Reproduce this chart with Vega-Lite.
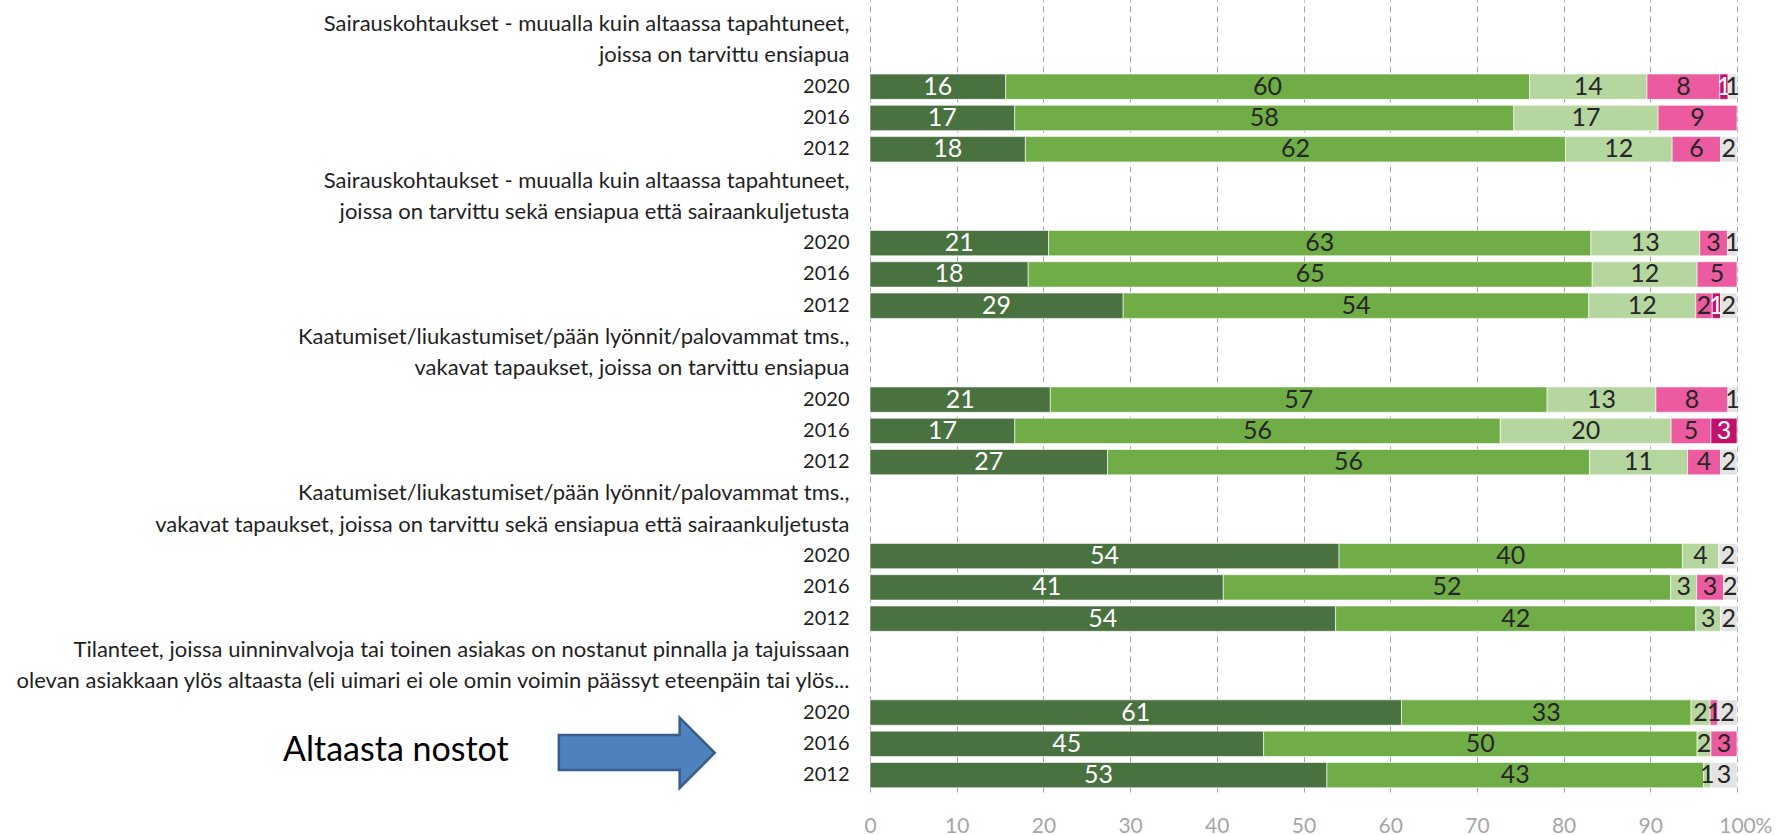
{
  "$schema": "https://vega.github.io/schema/vega-lite/v6.json",
  "width": 867,
  "height": 792,
  "autosize": "none",
  "padding": {"left": 870, "top": 0, "right": 46, "bottom": 43},
  "background": "white",
  "config": {"view": {"stroke": null}, "font": "Lato"},
  "encoding": {
    "y": {
      "field": "row",
      "type": "ordinal",
      "scale": {"domain": [0,1,2,3,4,5,6,7,8,9,10,11,12,13,14,15,16,17,18,19,20,21,22,23,24], "paddingInner": 0.19, "paddingOuter": 0.25, "align": 0.73},
      "axis": {
        "title": null,
        "ticks": false,
        "domain": false,
        "labelFont": "Lato",
        "labelFontSize": {"condition": {"test": "datum.value % 5 < 2", "value": 22}, "value": 20},
        "labelColor": "#1f1f1f",
        "labelPadding": 21,
        "labelLimit": 1000,
        "labelExpr": "['Sairauskohtaukset - muualla kuin altaassa tapahtuneet,','joissa on tarvittu ensiapua','2020','2016','2012','Sairauskohtaukset - muualla kuin altaassa tapahtuneet,','joissa on tarvittu sekä ensiapua että sairaankuljetusta','2020','2016','2012','Kaatumiset/liukastumiset/pään lyönnit/palovammat tms.,','vakavat tapaukset, joissa on tarvittu ensiapua','2020','2016','2012','Kaatumiset/liukastumiset/pään lyönnit/palovammat tms.,','vakavat tapaukset, joissa on tarvittu sekä ensiapua että sairaankuljetusta','2020','2016','2012','Tilanteet, joissa uinninvalvoja tai toinen asiakas on nostanut pinnalla ja tajuissaan','olevan asiakkaan ylös altaasta (eli uimari ei ole omin voimin päässyt eteenpäin tai ylös...','2020','2016','2012'][datum.value]"
      }
    }
  },
  "data": {
    "values": [
      {"row": 2, "year": "2020", "cat": "c1", "value": 15.65},
      {"row": 2, "year": "2020", "cat": "c2", "value": 60.42},
      {"row": 2, "year": "2020", "cat": "c3", "value": 13.55},
      {"row": 2, "year": "2020", "cat": "c4", "value": 8.4},
      {"row": 2, "year": "2020", "cat": "c5", "value": 0.95},
      {"row": 2, "year": "2020", "cat": "c6", "value": 1.03},
      {"row": 3, "year": "2016", "cat": "c1", "value": 16.69},
      {"row": 3, "year": "2016", "cat": "c2", "value": 57.57},
      {"row": 3, "year": "2016", "cat": "c3", "value": 16.64},
      {"row": 3, "year": "2016", "cat": "c4", "value": 9.1},
      {"row": 4, "year": "2012", "cat": "c1", "value": 17.92},
      {"row": 4, "year": "2012", "cat": "c2", "value": 62.3},
      {"row": 4, "year": "2012", "cat": "c3", "value": 12.3},
      {"row": 4, "year": "2012", "cat": "c4", "value": 5.6},
      {"row": 4, "year": "2012", "cat": "c6", "value": 1.88},
      {"row": 7, "year": "2020", "cat": "c1", "value": 20.6},
      {"row": 7, "year": "2020", "cat": "c2", "value": 62.55},
      {"row": 7, "year": "2020", "cat": "c3", "value": 12.55},
      {"row": 7, "year": "2020", "cat": "c4", "value": 3.2},
      {"row": 7, "year": "2020", "cat": "c6", "value": 1.1},
      {"row": 8, "year": "2016", "cat": "c1", "value": 18.25},
      {"row": 8, "year": "2016", "cat": "c2", "value": 65.05},
      {"row": 8, "year": "2016", "cat": "c3", "value": 12.1},
      {"row": 8, "year": "2016", "cat": "c4", "value": 4.6},
      {"row": 9, "year": "2012", "cat": "c1", "value": 29.2},
      {"row": 9, "year": "2012", "cat": "c2", "value": 53.7},
      {"row": 9, "year": "2012", "cat": "c3", "value": 12.35},
      {"row": 9, "year": "2012", "cat": "c4", "value": 1.9},
      {"row": 9, "year": "2012", "cat": "c5", "value": 0.95},
      {"row": 9, "year": "2012", "cat": "c6", "value": 1.9},
      {"row": 12, "year": "2020", "cat": "c1", "value": 20.8},
      {"row": 12, "year": "2020", "cat": "c2", "value": 57.3},
      {"row": 12, "year": "2020", "cat": "c3", "value": 12.55},
      {"row": 12, "year": "2020", "cat": "c4", "value": 8.3},
      {"row": 12, "year": "2020", "cat": "c6", "value": 1.05},
      {"row": 13, "year": "2016", "cat": "c1", "value": 16.7},
      {"row": 13, "year": "2016", "cat": "c2", "value": 56.0},
      {"row": 13, "year": "2016", "cat": "c3", "value": 19.7},
      {"row": 13, "year": "2016", "cat": "c4", "value": 4.6},
      {"row": 13, "year": "2016", "cat": "c5", "value": 3.0},
      {"row": 14, "year": "2012", "cat": "c1", "value": 27.4},
      {"row": 14, "year": "2012", "cat": "c2", "value": 55.6},
      {"row": 14, "year": "2012", "cat": "c3", "value": 11.3},
      {"row": 14, "year": "2012", "cat": "c4", "value": 3.8},
      {"row": 14, "year": "2012", "cat": "c6", "value": 1.9},
      {"row": 17, "year": "2020", "cat": "c1", "value": 54.1},
      {"row": 17, "year": "2020", "cat": "c2", "value": 39.6},
      {"row": 17, "year": "2020", "cat": "c3", "value": 4.2},
      {"row": 17, "year": "2020", "cat": "c6", "value": 2.1},
      {"row": 18, "year": "2016", "cat": "c1", "value": 40.75},
      {"row": 18, "year": "2016", "cat": "c2", "value": 51.6},
      {"row": 18, "year": "2016", "cat": "c3", "value": 3.0},
      {"row": 18, "year": "2016", "cat": "c4", "value": 3.1},
      {"row": 18, "year": "2016", "cat": "c6", "value": 1.55},
      {"row": 19, "year": "2012", "cat": "c1", "value": 53.7},
      {"row": 19, "year": "2012", "cat": "c2", "value": 41.55},
      {"row": 19, "year": "2012", "cat": "c3", "value": 2.85},
      {"row": 19, "year": "2012", "cat": "c6", "value": 1.9},
      {"row": 22, "year": "2020", "cat": "c1", "value": 61.3},
      {"row": 22, "year": "2020", "cat": "c2", "value": 33.4},
      {"row": 22, "year": "2020", "cat": "c3", "value": 2.2},
      {"row": 22, "year": "2020", "cat": "c4", "value": 0.9},
      {"row": 22, "year": "2020", "cat": "c6", "value": 2.2},
      {"row": 23, "year": "2016", "cat": "c1", "value": 45.4},
      {"row": 23, "year": "2016", "cat": "c2", "value": 50.0},
      {"row": 23, "year": "2016", "cat": "c3", "value": 1.6},
      {"row": 23, "year": "2016", "cat": "c4", "value": 3.0},
      {"row": 24, "year": "2012", "cat": "c1", "value": 52.7},
      {"row": 24, "year": "2012", "cat": "c2", "value": 43.45},
      {"row": 24, "year": "2012", "cat": "c3", "value": 0.85},
      {"row": 24, "year": "2012", "cat": "c6", "value": 3.0}
    ]
  },
  "layer": [
    {
      "transform": [
        {"stack": "value", "groupby": ["row"], "sort": [{"field": "cat", "order": "ascending"}], "as": ["x0", "x1"]}
      ],
      "mark": {"type": "bar", "stroke": "#ffffff", "strokeWidth": 0.6},
      "encoding": {
        "x": {
          "field": "x0",
          "type": "quantitative",
          "scale": {"domain": [0, 100], "nice": false},
          "axis": {
            "values": [0, 10, 20, 30, 40, 50, 60, 70, 80, 90, 100],
            "grid": true,
            "gridDash": [6, 4],
            "gridColor": "#A6A6A6",
            "gridWidth": 1,
            "ticks": false,
            "domain": false,
            "labelFlush": false,
            "labelFont": "Lato",
            "labelFontSize": 21,
            "labelColor": "#A6A6A6",
            "labelPadding": 23,
            "title": "%",
            "titleFont": "Lato",
            "titleFontSize": 21,
            "titleFontWeight": "normal",
            "titleColor": "#A6A6A6",
            "titleAnchor": "start",
            "titleAlign": "left",
            "titleBaseline": "top",
            "titleX": 885,
            "titleY": 23
          }
        },
        "x2": {"field": "x1"},
        "color": {
          "field": "cat",
          "type": "nominal",
          "scale": {"domain": ["c1", "c2", "c3", "c4", "c5", "c6"], "range": ["#4A7140", "#70AD47", "#B5D79F", "#EC5AA0", "#C0116D", "#E3E3E3"]},
          "legend": null
        }
      }
    },
    {
      "transform": [
        {"stack": "value", "groupby": ["row"], "sort": [{"field": "cat", "order": "ascending"}], "as": ["x0", "x1"]},
        {"calculate": "(datum.x0 + datum.x1) / 2", "as": "mid"}
      ],
      "mark": {"type": "text", "font": "Lato", "fontSize": 25, "baseline": "middle", "align": "center"},
      "encoding": {
        "x": {"field": "mid", "type": "quantitative", "scale": {"domain": [0, 100], "nice": false}},
        "text": {"field": "value", "type": "quantitative", "format": ".0f"},
        "color": {
          "condition": {"test": "datum.cat === 'c1' || datum.cat === 'c5'", "value": "#ffffff"},
          "value": "#262626"
        }
      }
    },
    {
      "data": {"values": [{}]},
      "mark": {
        "type": "point",
        "shape": "M -1 -0.23 L 0.55 -0.23 L 0.55 -0.45 L 1 0 L 0.55 0.45 L 0.55 0.22 L -1 0.22 Z",
        "size": 24300,
        "filled": true,
        "fill": "#4F81BD",
        "stroke": "#385D8A",
        "strokeWidth": 2.5,
        "opacity": 1,
        "yOffset": 9
      },
      "encoding": {
        "x": {"datum": -26.9, "type": "quantitative", "scale": {"domain": [0, 100], "nice": false}},
        "y": {"datum": 23, "type": "ordinal"}
      }
    },
    {
      "data": {"values": [{}]},
      "mark": {
        "type": "text",
        "text": "Altaasta nostot",
        "align": "left",
        "baseline": "middle",
        "font": "Lato",
        "fontSize": 34,
        "color": "#000000",
        "yOffset": 7
      },
      "encoding": {
        "x": {"datum": -67.7, "type": "quantitative", "scale": {"domain": [0, 100], "nice": false}},
        "y": {"datum": 23, "type": "ordinal"}
      }
    }
  ]
}
